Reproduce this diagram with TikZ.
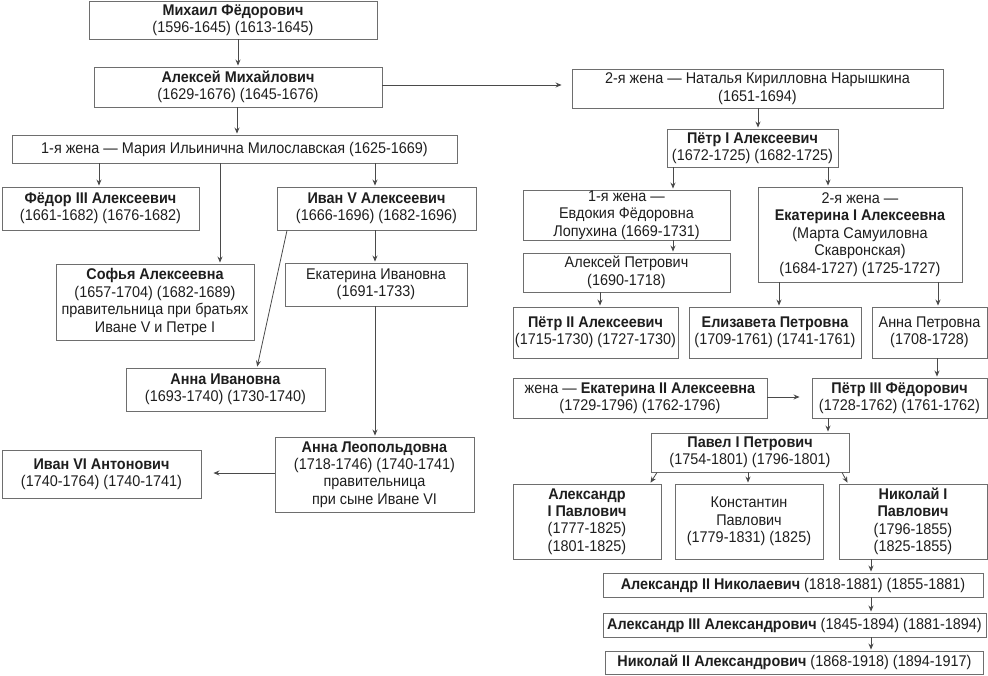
\documentclass[tikz,border=0pt]{standalone}
\usepackage{fontspec}
\setmainfont{Liberation Sans}[FakeStretch=0.93]
\usetikzlibrary{arrows.meta}
\definecolor{ln}{HTML}{4A4A4A}
\definecolor{bx}{HTML}{6E6E6E}
\definecolor{tx}{HTML}{1E1E1E}
\begin{document}
\begin{tikzpicture}[x=1pt,y=-1pt,
  box/.style={draw=bx, line width=0.9pt, inner sep=0pt, align=center, text=tx,
    font=\fontsize{15.5}{17.4}\selectfont},
  arr/.style={draw=ln, line width=0.8pt, -{Stealth[length=6pt,width=5pt]}, shorten >=1pt}]
\useasboundingbox (0,0) rectangle (988,675);
\fill[white] (0,0) rectangle (988,675);
% left side
\node[box, minimum width=288pt, minimum height=38pt] (mikh) at (233,20) {\textbf{Михаил Фёдорович}\\(1596-1645) (1613-1645)};
\node[box, minimum width=288pt, minimum height=40pt] (alex) at (238,87) {\textbf{Алексей Михайлович}\\(1629-1676) (1645-1676)};
\node[box, minimum width=371pt, minimum height=39pt] (natal) at (757.5,88.5) {2-я жена — Наталья Кирилловна Нарышкина\\(1651-1694)};
\node[box, minimum width=445pt, minimum height=28pt] (maria) at (234.5,149) {1-я жена — Мария Ильинична Милославская (1625-1669)};
\node[box, minimum width=197pt, minimum height=43pt] (fedor) at (100.5,208.5) {\textbf{Фёдор III Алексеевич}\\(1661-1682) (1676-1682)};
\node[box, minimum width=199pt, minimum height=43pt] (ivan5) at (376.5,208.5) {\textbf{Иван V Алексеевич}\\(1666-1696) (1682-1696)};
\node[box, minimum width=198pt, minimum height=76pt] (sofia) at (155,302) {\textbf{Софья Алексеевна}\\(1657-1704) (1682-1689)\\правительница при братьях\\Иване V и Петре I};
\node[box, minimum width=182pt, minimum height=43pt] (ekivan) at (376,284.5) {Екатерина Ивановна\\(1691-1733)};
\node[box, minimum width=199pt, minimum height=43pt] (annaiv) at (225.5,389.5) {\textbf{Анна Ивановна}\\(1693-1740) (1730-1740)};
\node[box, minimum width=199pt, minimum height=75pt] (annaleo) at (374.5,474.5) {\textbf{Анна Леопольдовна}\\(1718-1746) (1740-1741)\\правительница\\при сыне Иване VI};
\node[box, minimum width=199pt, minimum height=48pt] (ivan6) at (101.5,474) {\textbf{Иван VI Антонович}\\(1740-1764) (1740-1741)};
% right side
\node[box, minimum width=171pt, minimum height=38pt] (petr1) at (752.5,148) {\textbf{Пётр I Алексеевич}\\(1672-1725) (1682-1725)};
\node[box, minimum width=207pt, minimum height=50pt] (evdok) at (626.5,215) {1-я жена —\\Евдокия Фёдоровна\\Лопухина (1669-1731)};
\node[box, minimum width=207pt, minimum height=39pt] (alexpetr) at (626.5,272.5) {Алексей Петрович\\(1690-1718)};
\node[box, minimum width=204pt, minimum height=95pt] (ekat1) at (860,234.5) {2-я жена —\\\textbf{Екатерина I Алексеевна}\\(Марта Самуиловна\\Скавронская)\\(1684-1727) (1725-1727)};
\node[box, minimum width=165pt, minimum height=51pt] (petr2) at (595.5,332.5) {\textbf{Пётр II Алексеевич}\\(1715-1730) (1727-1730)};
\node[box, minimum width=172pt, minimum height=51pt] (eliz) at (775,332.5) {\textbf{Елизавета Петровна}\\(1709-1761) (1741-1761)};
\node[box, minimum width=115pt, minimum height=51pt] (annap) at (929.5,332.5) {Анна Петровна\\(1708-1728)};
\node[box, minimum width=254pt, minimum height=40pt] (ekat2) at (640,398) {жена — \textbf{Екатерина II Алексеевна}\\(1729-1796) (1762-1796)};
\node[box, minimum width=175pt, minimum height=40pt] (petr3) at (899.5,398) {\textbf{Пётр III Фёдорович}\\(1728-1762) (1761-1762)};
\node[box, minimum width=198pt, minimum height=39pt] (pavel) at (750,452.5) {\textbf{Павел I Петрович}\\(1754-1801) (1796-1801)};
\node[box, minimum width=148pt, minimum height=75pt] (alex1) at (587,521.5) {\textbf{Александр}\\\textbf{I Павлович}\\(1777-1825)\\(1801-1825)};
\node[box, minimum width=148pt, minimum height=75pt] (konst) at (749,521.5) {Константин\\Павлович\\(1779-1831) (1825)};
\node[box, minimum width=148pt, minimum height=75pt] (nik1) at (913,521.5) {\textbf{Николай I}\\\textbf{Павлович}\\(1796-1855)\\(1825-1855)};
\node[box, minimum width=380pt, minimum height=24pt] (alex2) at (793,585) {\textbf{Александр II Николаевич} (1818-1881) (1855-1881)};
\node[box, minimum width=383pt, minimum height=24pt] (alex3) at (794.5,625) {\textbf{Александр III Александрович} (1845-1894) (1881-1894)};
\node[box, minimum width=378pt, minimum height=23pt] (nik2) at (794.5,662.5) {\textbf{Николай II Александрович} (1868-1918) (1894-1917)};
% connectors
\draw[arr] (mikh.south -| alex.north) -- (alex.north);
\draw[arr] ([xshift=-1pt]alex.south) -- ([xshift=-1pt]alex.south |- maria.north);
\draw[arr, shorten >=10pt] (alex.east |- 0,85) -- (natal.west |- 0,85);
\draw[arr] (maria.south -| 99,0) -- (fedor.north -| 99,0);
\draw[arr] ([xshift=65pt]sofia.north |- maria.south) -- ([xshift=65pt]sofia.north);
\draw[arr] (maria.south -| 375,0) -- (ivan5.north -| 375,0);
\draw[arr] (ivan5.south -| 375,0) -- (ekivan.north -| 375,0);
\draw[arr] ([xshift=-89.5pt]ivan5.south) -- ([xshift=31.5pt]annaiv.north);
\draw[arr] (ekivan.south -| 375,0) -- (annaleo.north -| 375,0);
\draw[arr, shorten >=12pt] (annaleo.west |- 0,473) -- (ivan6.east |- 0,473);
\draw[arr] (natal.south -| 758,0) -- (petr1.north -| 758,0);
\draw[arr] ([xshift=-79.5pt]petr1.south) -- ([xshift=-79.5pt]petr1.south |- evdok.north);
\draw[arr] ([xshift=75.5pt]petr1.south) -- ([xshift=75.5pt]petr1.south |- ekat1.north);
\draw[arr] ([xshift=46.5pt]evdok.south) -- ([xshift=46.5pt]evdok.south |- alexpetr.north);
\draw[arr] ([xshift=-26.5pt]alexpetr.south) -- ([xshift=-26.5pt]alexpetr.south |- petr2.north);
\draw[arr] ([xshift=-81pt]ekat1.south) -- ([xshift=-81pt]ekat1.south |- eliz.north);
\draw[arr] ([xshift=78pt]ekat1.south) -- ([xshift=78pt]ekat1.south |- annap.north);
\draw[arr] ([xshift=7.5pt]annap.south) -- ([xshift=7.5pt]annap.south |- petr3.north);
\draw[arr, shorten >=12pt] (ekat2.east |- 0,397) -- (petr3.west |- 0,397);
\draw[arr] ([xshift=-71.5pt]petr3.south) -- ([xshift=-71.5pt]petr3.south |- pavel.north);
\draw[arr] ([xshift=-93pt]pavel.south) -- ([xshift=63pt]alex1.north);
\draw[arr] (pavel.south -| 748,0) -- (konst.north -| 748,0);
\draw[arr] ([xshift=92pt]pavel.south) -- ([xshift=-65pt]nik1.north);
\draw[arr] (nik1.south -| 871,0) -- (alex2.north -| 871,0);
\draw[arr] (alex2.south -| 871,0) -- (alex3.north -| 871,0);
\draw[arr] (alex3.south -| 871,0) -- (nik2.north -| 871,0);
\end{tikzpicture}
\end{document}
